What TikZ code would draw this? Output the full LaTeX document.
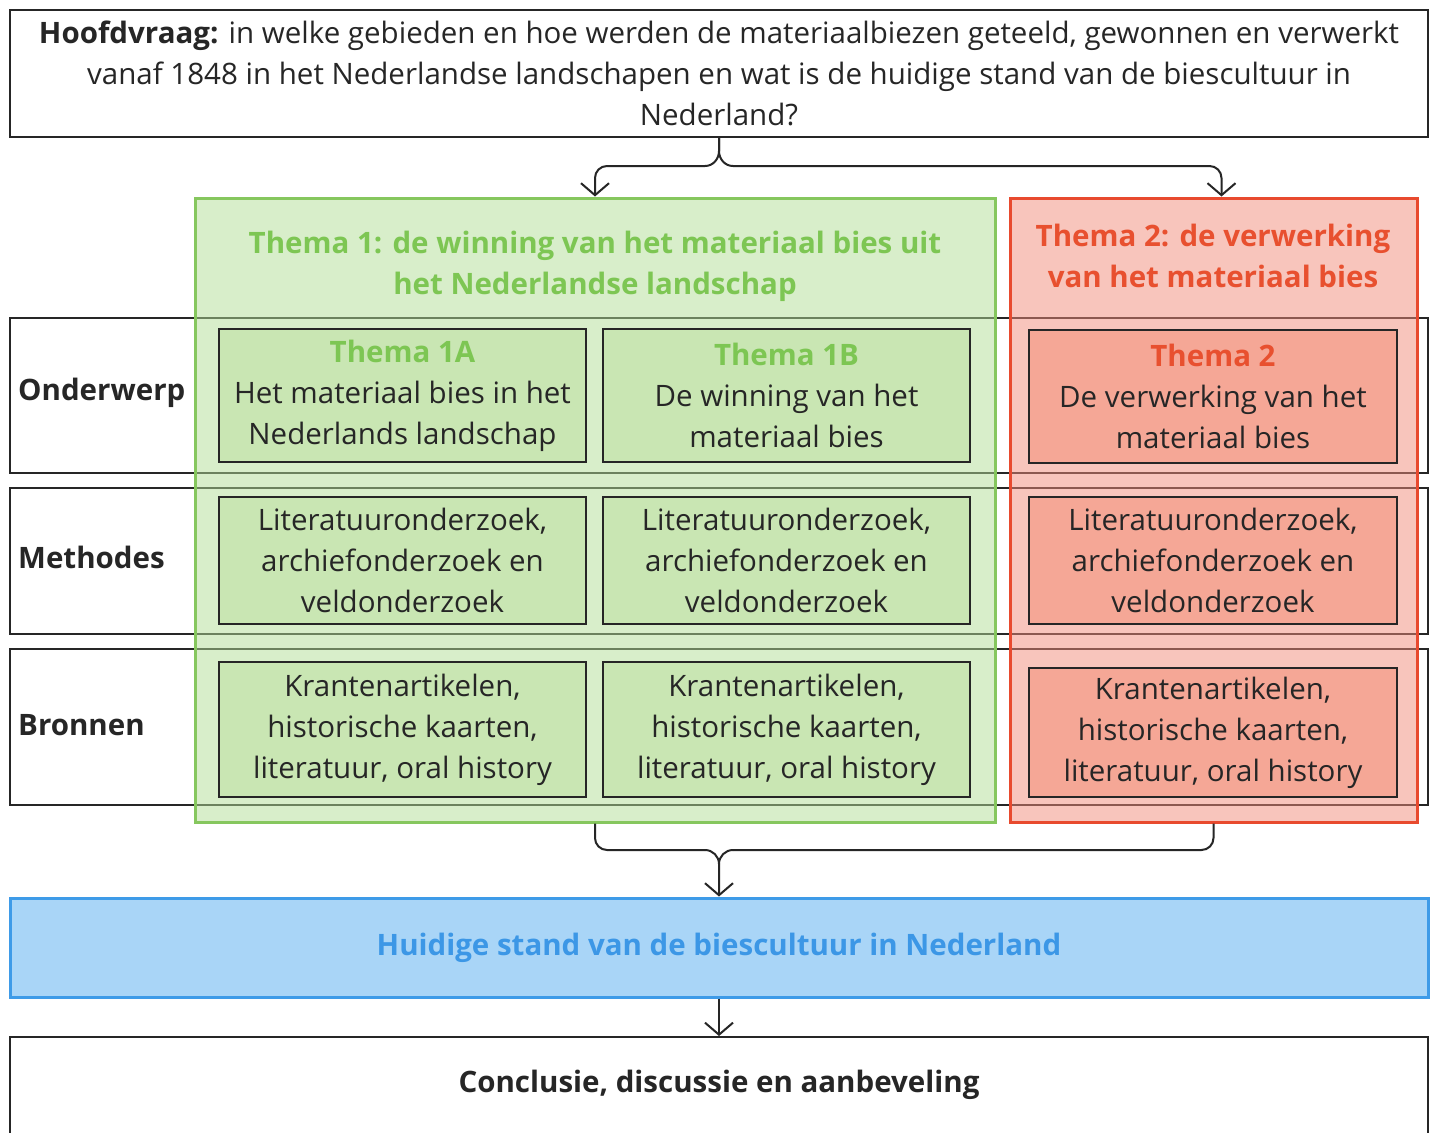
\documentclass[tikz,border=0pt]{standalone}
\usepackage{fontspec}
\setmainfont{Open Sans}
\usetikzlibrary{arrows.meta}
\definecolor{ink}{HTML}{262626}
\definecolor{gfill}{HTML}{B3DF97}
\definecolor{gborder}{HTML}{86C75E}
\definecolor{ginner}{HTML}{C9E6B3}
\definecolor{gtext}{HTML}{7DC653}
\definecolor{rfill}{HTML}{F38D7B}
\definecolor{rborder}{HTML}{E84A2E}
\definecolor{rinner}{HTML}{F5A796}
\definecolor{rtext}{HTML}{E8502F}
\definecolor{bfill}{HTML}{A9D5F7}
\definecolor{bborder}{HTML}{3E9BE8}
\definecolor{btext}{HTML}{3C97E6}
\newcommand{\dfont}{\fontsize{29.5}{41}\selectfont}
\tikzset{
  box/.style={rectangle, draw=ink, line width=2pt, inner sep=0pt, align=center, text=ink},
  rowbox/.style={box, fill=white, minimum width=1418pt},
  ginbox/.style={box, fill=ginner, minimum width=367pt},
  rinbox/.style={box, fill=rinner, minimum width=368pt},
  gthema/.style={rectangle, draw=gborder, line width=3pt, fill=gfill, fill opacity=0.5, minimum width=800pt, minimum height=624pt},
  rthema/.style={rectangle, draw=rborder, line width=3pt, fill=rfill, fill opacity=0.5, minimum width=407pt, minimum height=624pt},
  rowlabel/.style={anchor=west, inner sep=0pt, font=\dfont\bfseries, text=ink},
  conn/.style={draw=ink, line width=2pt, -{Straight Barb[length=12pt,width=28pt,line width=2pt]}},
  plainconn/.style={draw=ink, line width=2pt}
}
\begin{document}
\begin{tikzpicture}[x=1pt,y=1pt,font=\dfont]
\useasboundingbox (0,0) rectangle (1436,-1133);
\fill[white] (0,0) rectangle (1436,-1133);

% main question
\node[box, fill=white, minimum width=1418pt, minimum height=127pt] (top) at (719,-73.5)
  {\textbf{Hoofdvraag:} in welke gebieden en hoe werden de materiaalbiezen geteeld, gewonnen en verwerkt\\
   vanaf 1848 in het Nederlandse landschapen en wat is de huidige stand van de biescultuur in\\
   Nederland?};

% rows
\node[rowbox, minimum height=155pt] (rowO) at (719,-395.5) {};
\node[rowbox, minimum height=146pt] (rowM) at (719,-561) {};
\node[rowbox, minimum height=156pt] (rowB) at (719,-727) {};
\node[rowlabel] (lO) at (18,-393) {Onderwerp};
\node[rowlabel] (lM) at (18,-557) {Methodes};
\node[rowlabel] (lB) at (18,-725) {Bronnen};

% theme containers
\node[gthema] (green) at (595,-510) {};
\node[rthema] (red) at (1213.5,-510) {};
\node[text=gtext, font=\dfont\bfseries, align=center] (gtitle) at (595,-266)
  {Thema 1: de winning van het materiaal bies uit\\het Nederlandse landschap};
\node[text=rtext, font=\dfont\bfseries, align=center] (rtitle) at (1213,-256)
  {Thema 2: de verwerking\\van het materiaal bies};

% inner boxes: Onderwerp
\node[ginbox, minimum height=133pt] (o1a) at (402.5,-395.5)
  {{\color{gtext}\bfseries Thema 1A}\\Het materiaal bies in het\\Nederlands landschap};
\node[ginbox, minimum height=133pt] (o1b) at (786.5,-395.5)
  {{\color{gtext}\bfseries Thema 1B}\\De winning van het\\materiaal bies};
\node[rinbox, minimum height=133pt] (o2) at (1213,-396.5)
  {{\color{rtext}\bfseries Thema 2}\\De verwerking van het\\materiaal bies};

% Methodes
\node[ginbox, minimum height=127pt] (m1a) at (402.5,-560.5)
  {Literatuuronderzoek,\\archiefonderzoek en\\veldonderzoek};
\node[ginbox, minimum height=127pt] (m1b) at (786.5,-560.5)
  {Literatuuronderzoek,\\archiefonderzoek en\\veldonderzoek};
\node[rinbox, minimum height=127pt] (m2) at (1213,-560.5)
  {Literatuuronderzoek,\\archiefonderzoek en\\veldonderzoek};

% Bronnen
\node[ginbox, minimum height=135pt] (b1a) at (402.5,-729.5)
  {Krantenartikelen,\\historische kaarten,\\literatuur, oral history};
\node[ginbox, minimum height=135pt] (b1b) at (786.5,-729.5)
  {Krantenartikelen,\\historische kaarten,\\literatuur, oral history};
\node[rinbox, minimum height=129pt] (b2) at (1213,-732.5)
  {Krantenartikelen,\\historische kaarten,\\literatuur, oral history};

% blue and conclusion
\node[rectangle, draw=bborder, line width=3pt, fill=bfill, minimum width=1418pt, minimum height=99pt,
      text=btext, font=\dfont\bfseries] (blue) at (719,-947.5)
  {Huidige stand van de biescultuur in Nederland};
\node[box, fill=white, minimum width=1418pt, minimum height=110pt] (concl) at (719,-1092) {};
\node[text=ink, font=\dfont\bfseries] (concltext) at (719,-1085)
  {Conclusie, discussie en aanbeveling};

% connectors: top brace
\draw[conn] (top.south) -- ++(0,-13) to[out=-90,in=0] ++(-14,-15)
  [rounded corners=12] -| (green.north);
\draw[conn] (top.south) -- ++(0,-13) to[out=-90,in=180] ++(14,-15)
  [rounded corners=12] -| ([xshift=8pt]red.north);

% bottom brace
\coordinate (bj) at (719,-864);
\draw[plainconn, rounded corners=12] (green.south) |- (705,-850);
\draw[conn] (705,-850) to[out=0,in=90] (bj) -- (blue.north);
\draw[plainconn, rounded corners=12] (red.south) |- (733,-850);
\draw[plainconn] (733,-850) to[out=180,in=90] (bj);

% blue to conclusion
\draw[conn] (blue.south) -- (concl.north);
\end{tikzpicture}
\end{document}
